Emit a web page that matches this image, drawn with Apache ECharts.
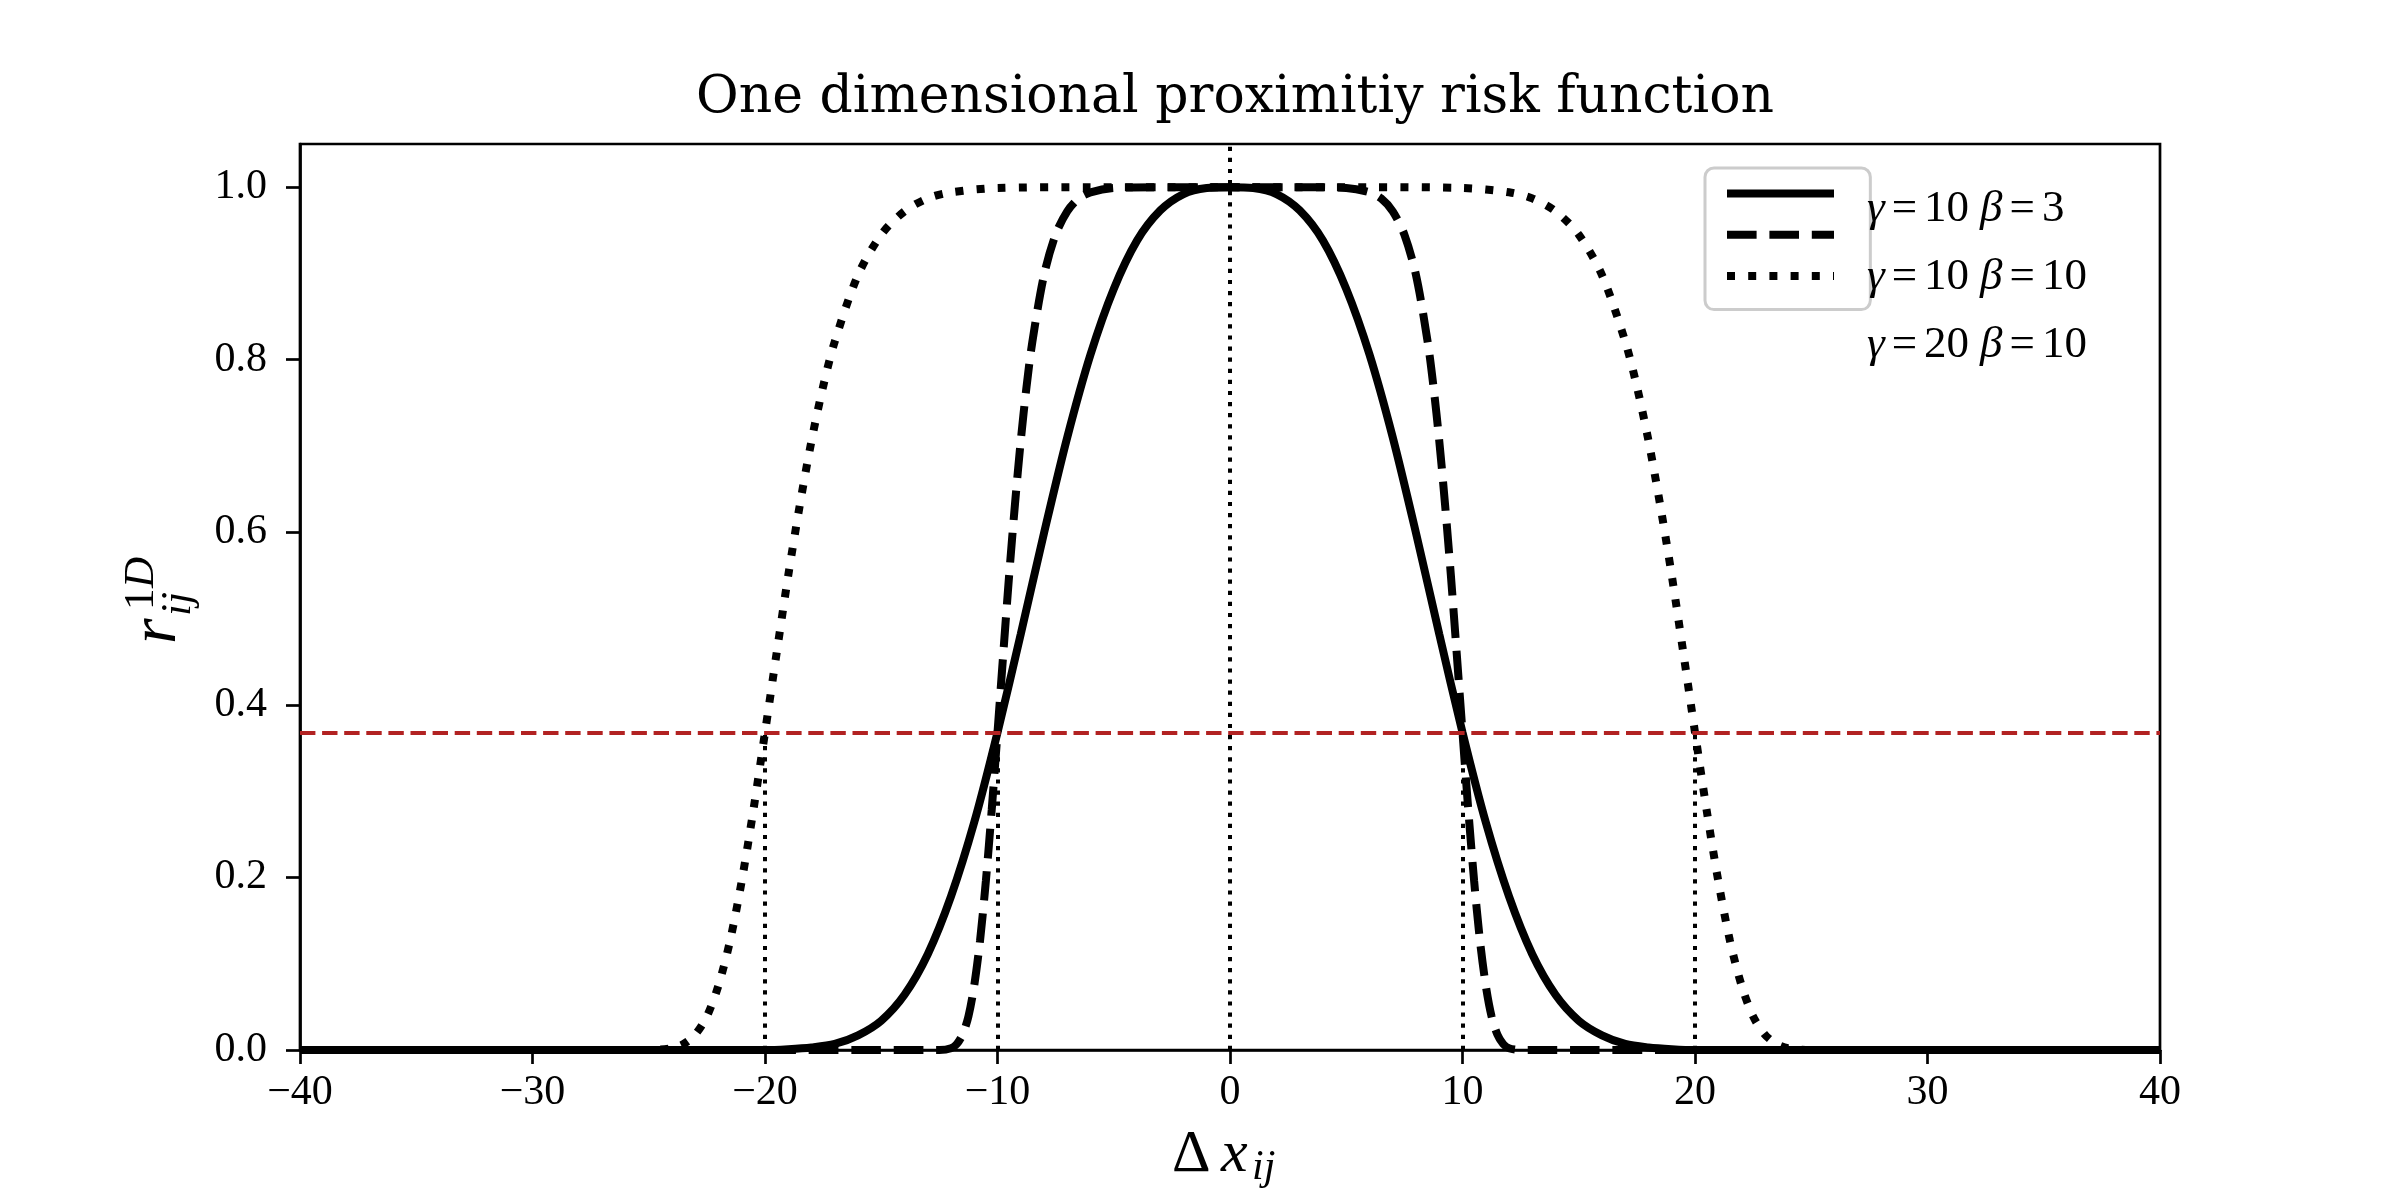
<!DOCTYPE html>
<html lang="en">
<head>
<meta charset="UTF-8">
<title>One dimensional proximity risk</title>
<style>
  html, body {margin:0; padding:0; background:#fff}
  #chart {width:2400px; height:1200px}
</style>
<script src="https://cdn.jsdelivr.net/npm/echarts@6/dist/echarts.min.js"></script>
<script>
// values
const xTicks = [-40, -30, -20, -10, 0, 10, 20, 30, 40]
const yTicks = [0, 0.2, 0.4, 0.6, 0.8, 1.0]
const names = ['γ=10 β=3', 'γ=10 β=10', 'γ=20 β=10']

// gamma 10, beta 3 (solid)
const xsA = [-40, -30, -24, -22, -20, -19, -18, -17, -16, -15, -14, -13, -12, -11, -10, -9, -8, -7, -6, -5, -4, -3, -2, -1,
  0, 1, 2, 3, 4, 5, 6, 7, 8, 9, 10, 11, 12, 13, 14, 15, 16, 17, 18, 19, 20, 22, 24, 30, 40]
const ysA = [0, 0, 0, 0, 0, 0.001, 0.003, 0.007, 0.017, 0.034, 0.064, 0.111, 0.178, 0.264, 0.368, 0.482, 0.599, 0.710, 0.806, 0.882, 0.938, 0.973, 0.992, 0.999,
  1.000, 0.999, 0.992, 0.973, 0.938, 0.882, 0.806, 0.710, 0.599, 0.482, 0.368, 0.264, 0.178, 0.111, 0.064, 0.034, 0.017, 0.007, 0.003, 0.001, 0, 0, 0, 0, 0]

// gamma 10, beta 10 (dashed)
const xsB = [-40, -30, -20, -14, -13, -12.5, -12, -11.75, -11.5, -11.25, -11, -10.75, -10.5, -10.25, -10, -9.75, -9.5, -9.25, -9, -8.75, -8.5, -8, -7.5, -7, -6.5, -6, -5, -3,
  0, 3, 5, 6, 6.5, 7, 7.5, 8, 8.5, 8.75, 9, 9.25, 9.5, 9.75, 10, 10.25, 10.5, 10.75, 11, 11.25, 11.5, 11.75, 12, 12.5, 13, 14, 20, 30, 40]
const ysB = [0, 0, 0, 0, 0, 0, 0.002, 0.007, 0.018, 0.039, 0.075, 0.127, 0.196, 0.278, 0.368, 0.460, 0.550, 0.632, 0.706, 0.769, 0.821, 0.898, 0.945, 0.972, 0.987, 0.994, 0.999, 1.000,
  1.000, 1.000, 0.999, 0.994, 0.987, 0.972, 0.945, 0.898, 0.821, 0.769, 0.706, 0.632, 0.550, 0.460, 0.368, 0.278, 0.196, 0.127, 0.075, 0.039, 0.018, 0.007, 0.002, 0, 0, 0, 0, 0, 0]

// gamma 20, beta 10 (dotted)
const xsC = [-40, -30, -26, -25, -24, -23.5, -23, -22.5, -22, -21.5, -21, -20.5, -20, -19.5, -19, -18.5, -18, -17.5, -17, -16, -15, -14, -13, -12, -10, -6,
  0, 6, 10, 12, 13, 14, 15, 16, 17, 17.5, 18, 18.5, 19, 19.5, 20, 20.5, 21, 21.5, 22, 22.5, 23, 23.5, 24, 25, 26, 30, 40]
const ysC = [0, 0, 0, 0, 0.002, 0.007, 0.018, 0.039, 0.075, 0.127, 0.196, 0.278, 0.368, 0.460, 0.550, 0.632, 0.706, 0.769, 0.821, 0.898, 0.945, 0.972, 0.987, 0.994, 0.999, 1.000,
  1.000, 1.000, 0.999, 0.994, 0.987, 0.972, 0.945, 0.898, 0.821, 0.769, 0.706, 0.632, 0.550, 0.460, 0.368, 0.278, 0.196, 0.127, 0.075, 0.039, 0.018, 0.007, 0.002, 0, 0, 0, 0]

// guide lines
const refLevel = 0.368
const refXs = [-20, -10, 10, 20]
const centerX = 0
const yTop = 1.05

const serif = 'Liberation Serif'
const wideSerif = 'DejaVu Serif'

// legend label placement (the legend box itself comes from echarts)
const legendLeft = 1705, legendTop = 168, legendPadTop = 16, rowH = 46, rowGap = 22
const labelX = 1867

window.onload = function () {
  let chart = echarts.init(document.getElementById('chart'))

  let pairs = (xs, ys) => xs.map((x, i) => [x, ys[i]])

  let guides = refXs.map(x => [{ coord: [x, 0] }, { coord: [x, refLevel] }])
  guides.push([{ coord: [centerX, 0] }, { coord: [centerX, yTop] }])

  let curve = (name, xs, ys, type) => ({
    name: name,
    type: 'line',
    data: pairs(xs, ys),
    symbol: 'none',
    smooth: 0.3,
    z: 3,
    itemStyle: { color: '#000' },
    lineStyle: { color: '#000', width: 8, type: type }
  })

  // legend labels as plain serif text pieces: greek italic, the rest upright
  let ctx = document.createElement('canvas').getContext('2d')
  let textW = (font, s) => { ctx.font = font; return ctx.measureText(s).width }
  let upright = '45px "Liberation Serif"'
  let italic = 'italic 45px "Liberation Serif"'
  let legendLabels = []
  names.forEach((name, row) => {
    let y = legendTop + legendPadTop + rowH / 2 + row * (rowH + rowGap) + 2
    let x = labelX
    name.split(' ').forEach((part, k) => {
      let [sym, val] = part.split('=')
      if (k > 0) x += 11
      let bits = [[sym, italic, 7], ['=', upright, 7], [val, upright, 0]]
      bits.forEach(([s, font, after]) => {
        legendLabels.push({ type: 'text', x: x, y: y, z: 100, style: { text: s, font: font, fill: '#000', align: 'left', verticalAlign: 'middle' } })
        x += textW(font, s) + after
      })
    })
  })

  let option = {
    animation: false,
    backgroundColor: '#fff',
    title: {
      text: 'One dimensional proximitiy risk function',
      left: 1230,
      top: 67,
      textAlign: 'center',
      textStyle: { fontFamily: wideSerif, fontSize: 52, fontWeight: 'normal', color: '#000' }
    },
    grid: {
      left: 300, top: 144, width: 1860, height: 906,
      show: true, borderColor: '#000', borderWidth: 2.7, backgroundColor: 'transparent'
    },
    legend: {
      data: names,
      orient: 'vertical',
      left: legendLeft,
      top: legendTop,
      padding: [legendPadTop, 28, 24, 18],
      itemWidth: 107,
      itemHeight: 24,
      itemGap: rowGap,
      backgroundColor: 'rgba(255,255,255,0.8)',
      borderColor: '#cccccc',
      borderWidth: 3,
      borderRadius: 9,
      itemStyle: { opacity: 0 },
      lineStyle: { width: 8 },
      // reserve room for the label; the label text itself is drawn by the graphic pieces
      formatter: () => '{w| }',
      textStyle: {
        rich: { w: { width: 274, height: rowH, color: 'rgba(0,0,0,0)' } }
      }
    },
    xAxis: {
      type: 'value', min: -40, max: 40, interval: 10,
      axisLine: { onZero: false, lineStyle: { color: '#000', width: 2.7 } },
      axisTick: { customValues: xTicks, inside: false, length: 14, lineStyle: { color: '#000', width: 2.7 } },
      axisLabel: {
        customValues: xTicks, margin: 22, color: '#000', fontFamily: serif, fontSize: 42,
        formatter: v => String(v).replace('-', '\u2212')
      },
      splitLine: { show: false }
    },
    yAxis: {
      type: 'value', min: 0, max: yTop, interval: 0.2,
      axisLine: { show: true, onZero: false, lineStyle: { color: '#000', width: 2.7 } },
      axisTick: { show: true, customValues: yTicks, length: 14, lineStyle: { color: '#000', width: 2.7 } },
      axisLabel: {
        customValues: yTicks, margin: 33, color: '#000', fontFamily: serif, fontSize: 42,
        formatter: v => v.toFixed(1)
      },
      splitLine: { show: false }
    },
    graphic: [
      // x axis name: Delta x_ij
      { type: 'text', x: 1172, y: 1155, style: { text: 'Δ', font: '60px "Liberation Serif"', fill: '#000', align: 'left', verticalAlign: 'middle' } },
      { type: 'text', x: 1221, y: 1155, style: { text: 'x', font: 'italic 60px "Liberation Serif"', fill: '#000', align: 'left', verticalAlign: 'middle' } },
      { type: 'text', x: 1252, y: 1168, style: { text: 'ij', font: 'italic 42px "Liberation Serif"', fill: '#000', align: 'left', verticalAlign: 'middle' } },
      // y axis name: r_ij^1D
      {
        type: 'group', x: 178, y: 600, rotation: Math.PI / 2,
        children: [
          { type: 'text', x: -44, y: -20, style: { text: 'r', font: 'italic 66px "Liberation Serif"', fill: '#000', align: 'left', verticalAlign: 'middle' } },
          { type: 'text', x: -16, y: 1, style: { text: 'ij', font: 'italic 43px "Liberation Serif"', fill: '#000', align: 'left', verticalAlign: 'middle' } },
          { type: 'text', x: -10, y: -36, style: { text: '1', font: '43px "Liberation Serif"', fill: '#000', align: 'left', verticalAlign: 'middle' } },
          { type: 'text', x: 12, y: -36, style: { text: 'D', font: 'italic 43px "Liberation Serif"', fill: '#000', align: 'left', verticalAlign: 'middle' } }
        ]
      }
    ].concat(legendLabels),
    series: [
      {
        name: 'guides',
        type: 'line',
        data: [],
        z: 2,
        markLine: {
          silent: true,
          symbol: ['none', 'none'],
          label: { show: false },
          data: [
            [{ coord: [-40, refLevel], lineStyle: { color: '#b22222', width: 3.8, type: [15.4, 6.7] } },
             { coord: [40, refLevel] }]
          ].concat(guides.map(g => [Object.assign({ lineStyle: { color: '#000', width: 4, type: [4.2, 6.9] } }, g[0]), g[1]]))
        }
      },
      curve(names[0], xsA, ysA, 'solid'),
      curve(names[1], xsB, ysB, [29.6, 12.8]),
      curve(names[2], xsC, ysC, [8, 13.2])
    ]
  }

  chart.setOption(option)
}
</script>
</head>
<body>
<div id="chart"></div>
</body>
</html>
